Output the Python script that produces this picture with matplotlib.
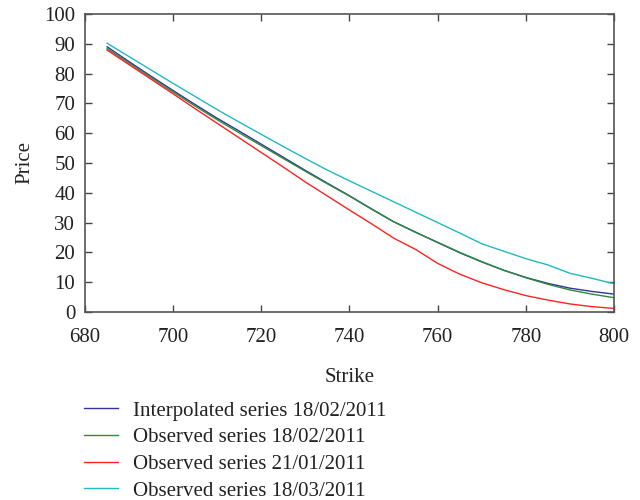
import matplotlib
matplotlib.use("Agg")
import matplotlib.pyplot as plt

strikes = [685, 690, 695, 700, 705, 710, 715, 720, 725, 730, 735, 740,
           745, 750, 755, 760, 765, 770, 775, 780, 785, 790, 795, 800]
interp_1802 = [89.0, 84.0, 79.1, 74.3, 69.6, 65.0, 60.7, 56.3, 51.9, 47.5, 43.2, 39.0,
               34.6, 30.3, 26.8, 23.3, 19.9, 16.8, 14.0, 11.6, 9.6, 8.0, 6.9, 6.0]
obs_1802 = [88.4, 83.5, 78.6, 73.8, 69.1, 64.5, 60.1, 55.8, 51.5, 47.2, 43.0, 38.9,
            34.5, 30.3, 26.7, 23.4, 20.0, 16.9, 14.0, 11.5, 9.3, 7.4, 6.0, 4.8]
obs_2101 = [87.9, 83.0, 78.1, 73.2, 68.2, 63.3, 58.4, 53.5, 48.6, 43.6, 38.9, 34.2,
            29.6, 24.8, 21.0, 16.3, 12.7, 9.8, 7.5, 5.5, 4.0, 2.7, 1.8, 1.2]
obs_1803 = [90.2, 85.7, 81.2, 76.7, 72.3, 67.9, 63.7, 59.6, 55.5, 51.5, 47.6, 44.0,
            40.5, 37.0, 33.5, 30.0, 26.5, 22.9, 20.4, 17.9, 15.8, 13.0, 11.3, 9.5]
labels = ["Interpolated series 18/02/2011", "Observed series 18/02/2011",
          "Observed series 21/01/2011", "Observed series 18/03/2011"]
colors = ["#333399", "#2e8b3e", "#ff2222", "#22b8c0"]
xticks = [680, 700, 720, 740, 760, 780, 800]
yticks = [0, 10, 20, 30, 40, 50, 60, 70, 80, 90, 100]

plt.rcParams["font.family"] = ["Liberation Serif", "DejaVu Serif"]
plt.rcParams["font.size"] = 15

fig = plt.figure(figsize=(6.4, 5.0), dpi=100)
ax = fig.add_axes([85/640, 1-312/500, (614-85)/640, (312-14)/500])

for ys, lab, c in zip([interp_1802, obs_1802, obs_2101, obs_1803], labels, colors):
    ax.plot(strikes, ys, color=c, lw=1.0, label=lab)

ax.set_xlim(680, 800)
ax.set_ylim(0, 100)
ax.set_xticks(xticks)
ax.set_yticks(yticks)
ax.tick_params(direction="in", top=True, right=True, length=5, width=1,
               colors="#444444", labelcolor="#222222", labelsize=15)
ax.tick_params(axis="x", pad=11.5)
ax.tick_params(axis="y", pad=7)
for s in ax.spines.values():
    s.set_color("#555555")
    s.set_linewidth(1.2)
ax.set_xlabel("Strike", fontsize=15, color="#222222", labelpad=15)
ax.set_ylabel("Price", fontsize=15, color="#222222", labelpad=7)

fig.legend(loc="upper left", bbox_to_anchor=(84/640, 1-401/500), frameon=False,
           borderpad=0, borderaxespad=0,
           handlelength=1.65, handletextpad=0.7, labelspacing=0.34,
           fontsize=15, labelcolor="#222222")

fig.savefig("out.png", dpi=100)
